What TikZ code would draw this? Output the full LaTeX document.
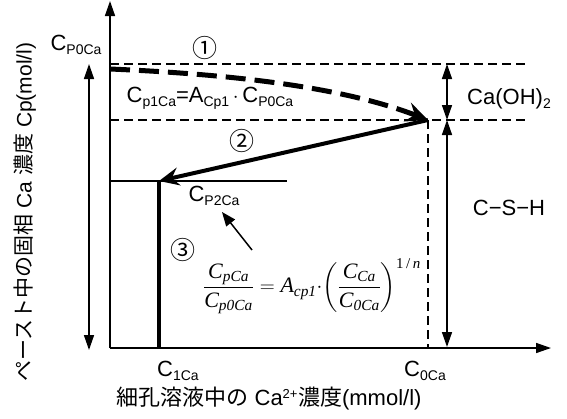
\documentclass[tikz,border=0pt]{standalone}
\usepackage{amsmath}
\usepackage{fontspec}
\setmainfont{Liberation Sans}
\newfontfamily\jpfont{Noto Sans CJK JP}
\newfontfamily\tmsfont{Liberation Serif}
\usetikzlibrary{arrows.meta}

\newcommand{\lowsub}[1]{\raisebox{-0.35ex}{\fontsize{14}{14}\selectfont #1}}
\newcommand{\tcv}[2]{\text{\tmsfont\itshape #1}_{\text{\tmsfont\itshape #2}}}

\begin{document}
\begin{tikzpicture}[x=1pt, y=-1pt, >={Triangle[length=15pt,width=10pt]},
  font=\fontsize{22}{26}\selectfont,
  fine dash/.style={dash pattern=on 9pt off 5pt, line width=1.2pt},
  step mark/.style={font=\jpfont\fontsize{25}{25}\selectfont},
  thick arrow/.style={line width=4pt, -{Stealth[length=20pt,width=18pt,inset=7pt]}}]
  \useasboundingbox (0,0) rectangle (567,418);

  % axes
  \coordinate (O) at (110,348);
  \coordinate (ytop) at (110,1);
  \coordinate (xend) at (551,348);
  \draw[line width=1.5pt, ->] (O) -- (ytop);
  \draw[line width=1.5pt, ->] (O) -- (xend);

  % levels
  \coordinate (top l) at (110,64);  \coordinate (top r) at (525,64);
  \coordinate (mid l) at (110,120); \coordinate (mid r) at (525,120);
  \draw[fine dash] (top l) -- (top r);
  \draw[fine dash] (mid l) -- (mid r);

  \coordinate (p0) at (110,69);
  \coordinate (p1) at (428,120);
  \coordinate (p2) at (159,181);
  \coordinate (c1) at (159,348);
  \coordinate (c0) at (428,348);
  \coordinate (h r) at (287,181);
  \coordinate (h l) at (110,181);

  \draw[fine dash] (p1) -- (c0);
  \draw[line width=1.2pt] (h l) -- (h r);
  \draw[line width=5pt, dash pattern=on 20pt off 9pt,
    -{Stealth[length=22pt,width=20pt,inset=8pt]}]
    (p0) .. controls (250,75) and (350,90) .. (p1);
  \draw[thick arrow] (p1) -- (p2);
  \draw[line width=4.5pt] (p2) -- (c1);

  % ranges
  \coordinate (L top) at (89,64);   \coordinate (L bot) at (89,350);
  \coordinate (R top) at (447,64);  \coordinate (R mid) at (447,120);
  \coordinate (R bot) at (447,347);
  \draw[line width=1.5pt, <->] (L top) -- (L bot);
  \draw[line width=1.5pt, <->] (R top) -- (R mid);
  \draw[line width=1.5pt, <->] (R mid) -- (R bot);

  % labels
  \node (cp0) at (76,45) {C\lowsub{P0Ca}};
  \node[step mark] (s1) at (205,48) {①};
  \node (cp1) at (210,98) {C\lowsub{p1Ca}=A\lowsub{Cp1}\,$\cdot$\,C\lowsub{P0Ca}};
  \node[step mark] (s2) at (242,141) {②};
  \node (cp2) at (214,196) {C\lowsub{P2Ca}};
  \node[step mark] (s3) at (183,250) {③};
  \node (eq) at (312,286) {$\dfrac{\tcv{C}{pCa}}{\tcv{C}{p0Ca}}
    = \tcv{A}{cp1}{\cdot}\!\left(\dfrac{\tcv{C}{Ca}}{\tcv{C}{0Ca}}\right)^{\text{\tmsfont\fontsize{15}{15}\selectfont 1\,/\,\itshape n}}$};
  \coordinate (eq tail) at (252,250);
  \coordinate (eq tip) at (222,212);
  \draw[line width=1.5pt, -{Triangle[length=14pt,width=11pt]}] (eq tail) -- (eq tip);
  \node (caoh) at (509,99) {Ca(OH)\lowsub{2}};
  \node (csh) at (509,208) {C−S−H};
  \node (c1 lab) at (178,371) {C\lowsub{1Ca}};
  \node (c0 lab) at (425,371) {C\lowsub{0Ca}};
  \node (xlab) at (269,399) {{\jpfont 細孔溶液中の} Ca\textsuperscript{\fontsize{13}{13}\selectfont 2+}{\jpfont 濃度}(mmol/l)};
  \node[rotate=90, font=\fontsize{21}{25}\selectfont] (ylab) at (25,212) {{\jpfont ペースト中の固相} Ca {\jpfont 濃度} Cp(mol/l)};
\end{tikzpicture}
\end{document}
